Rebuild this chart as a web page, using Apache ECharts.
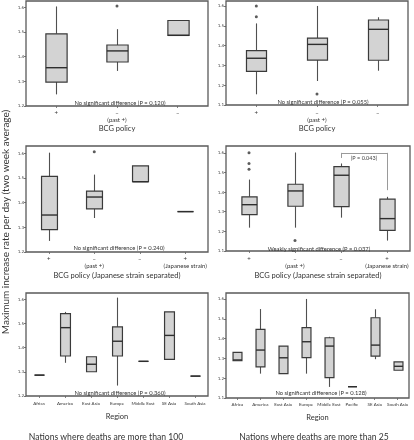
<!DOCTYPE html>
<html><head><meta charset="utf-8">
<script src="https://cdn.jsdelivr.net/npm/echarts@6/dist/echarts.min.js"></script>
<style>html,body{margin:0;padding:0;background:#fff}#c{width:414px;height:440px}</style>
</head><body><div id="c"></div>
<script>
const FONT = 'Lato, "Liberation Sans", sans-serif';

// ---------- categories ----------
const bcgCategories = ['+', '–\n(past +)', '–'];
const bcgJapanCategories = ['+', '–\n(past +)', '–', '+\n(Japanese strain)'];
const regionCategories100 = ['Africa', 'America', 'East Asia', 'Europe', 'Middle East', 'SE Asia', 'South Asia'];
const regionCategories25 = ['Africa', 'America', 'East Asia', 'Europe', 'Middle East', 'Pacific', 'SE Asia', 'South Asia'];

// ---------- box values: [min, Q1, median, Q3, max] ----------
const bcg100Boxes = [
  [1.247, 1.297, 1.355, 1.492, 1.603],
  [1.342, 1.378, 1.423, 1.447, 1.511],
  [1.486, 1.486, 1.486, 1.546, 1.546]
];
const bcg100Outliers = [[1, 1.605]]; // [category index, value]

const bcg25Boxes = [
  [1.154, 1.270, 1.336, 1.374, 1.512],
  [1.221, 1.327, 1.406, 1.438, 1.600],
  [1.273, 1.326, 1.482, 1.529, 1.543]
];
const bcg25Outliers = [[0, 1.600], [0, 1.546], [1, 1.156]];

const japan100Boxes = [
  [1.245, 1.291, 1.350, 1.507, 1.603],
  [1.338, 1.375, 1.423, 1.447, 1.514],
  [1.485, 1.485, 1.485, 1.549, 1.549],
  [1.364, 1.364, 1.364, 1.364, 1.364]
];
const japan100Outliers = [[1, 1.607]];

const japan25Boxes = [
  [1.219, 1.285, 1.336, 1.376, 1.464],
  [1.219, 1.328, 1.406, 1.440, 1.602],
  [1.270, 1.326, 1.486, 1.530, 1.546],
  [1.153, 1.205, 1.265, 1.364, 1.376]
];
const japan25Outliers = [[0, 1.600], [0, 1.546], [0, 1.517], [1, 1.154]];
// bracket between "–" (index 2) and "+ (Japanese strain)" (index 3)
const japan25Bracket = { from: 2, to: 3, top: 1.600, leftEnd: 1.574, rightEnd: 1.410, text: '(P = 0.043)' };

const region100Boxes = [
  [1.286, 1.286, 1.286, 1.286, 1.286],
  [1.337, 1.365, 1.482, 1.540, 1.547],
  [1.300, 1.300, 1.331, 1.362, 1.362],
  [1.243, 1.365, 1.426, 1.485, 1.606],
  [1.343, 1.343, 1.343, 1.343, 1.343],
  [1.351, 1.351, 1.450, 1.547, 1.547],
  [1.282, 1.282, 1.282, 1.282, 1.282]
];
const region25Boxes = [
  [1.288, 1.288, 1.292, 1.330, 1.330],
  [1.223, 1.257, 1.342, 1.446, 1.549],
  [1.223, 1.223, 1.303, 1.362, 1.362],
  [1.223, 1.304, 1.384, 1.455, 1.600],
  [1.156, 1.203, 1.362, 1.404, 1.409],
  [1.157, 1.157, 1.157, 1.157, 1.157],
  [1.296, 1.311, 1.367, 1.505, 1.548],
  [1.240, 1.240, 1.260, 1.282, 1.282]
];

// ---------- texts ----------
const noteTexts = [
  'No significant difference (P = 0.120)',
  'No significant difference (P = 0.055)',
  'No significant difference (P = 0.240)',
  'Weakly significant difference (P = 0.037)',
  'No significant difference (P = 0.360)',
  'No significant difference (P = 0.128)'
];
const axisNames = ['BCG policy', 'BCG policy', 'BCG policy (Japanese strain separated)', 'BCG policy (Japanese strain separated)', 'Region', 'Region'];
const yAxisTitle = 'Maximum increase rate per day (two week average)';
const columnTitles = ['Nations where deaths are more than 100', 'Nations where deaths are more than 25'];

// ---------- panel layout ----------
const panels = [
  { grid: { left: 26, top: 1, width: 182, height: 105 }, min: 1.2, max: 1.625, cats: bcgCategories, boxes: bcg100Boxes, outliers: bcg100Outliers, ratio: 0.35, nameGap: 17, labelSize: 6, labelMargin: 4, note: [120, 103] },
  { grid: { left: 226, top: 1, width: 182, height: 104 }, min: 1.1, max: 1.625, cats: bcgCategories, boxes: bcg25Boxes, outliers: bcg25Outliers, ratio: 0.33, nameGap: 19, labelSize: 6, labelMargin: 5, note: [323, 102] },
  { grid: { left: 26, top: 146, width: 182, height: 106 }, min: 1.2, max: 1.63, cats: bcgJapanCategories, boxes: japan100Boxes, outliers: japan100Outliers, ratio: 0.35, nameGap: 20, labelSize: 6, labelMargin: 4, note: [119, 248] },
  { grid: { left: 226, top: 146, width: 184, height: 105 }, min: 1.1, max: 1.635, cats: bcgJapanCategories, boxes: japan25Boxes, outliers: japan25Outliers, ratio: 0.33, nameGap: 21, labelSize: 6, labelMargin: 5, note: [319, 249], bracket: japan25Bracket },
  { grid: { left: 26, top: 293, width: 182, height: 103 }, min: 1.2, max: 1.625, cats: regionCategories100, boxes: region100Boxes, outliers: [], ratio: 0.38, nameGap: 17, labelSize: 4.5, labelMargin: 5, note: [120, 393] },
  { grid: { left: 226, top: 293, width: 183, height: 105 }, min: 1.1, max: 1.63, cats: regionCategories25, boxes: region25Boxes, outliers: [], ratio: 0.39, nameGap: 16, labelSize: 4.5, labelMargin: 4, note: [321, 393] }
];

function makeRender(ratio) {
  return function (params, api) {
    const idx = api.value(0);
    const pMin = api.coord([idx, api.value(1)]);
    const pQ1 = api.coord([idx, api.value(2)]);
    const pMed = api.coord([idx, api.value(3)]);
    const pQ3 = api.coord([idx, api.value(4)]);
    const pMax = api.coord([idx, api.value(5)]);
    const bw = api.size([1, 0])[0] * ratio;
    const x = Math.round(pMed[0]) + 0.5;
    const stroke = '#3a3a3a';
    const children = [];
    if (pMax[1] < pQ3[1] - 0.5) children.push({ type: 'line', shape: { x1: x, y1: pMax[1], x2: x, y2: pQ3[1] }, style: { stroke: '#505050', lineWidth: 1.1 } });
    if (pMin[1] > pQ1[1] + 0.5) children.push({ type: 'line', shape: { x1: x, y1: pQ1[1], x2: x, y2: pMin[1] }, style: { stroke: '#505050', lineWidth: 1.1 } });
    const h = pQ1[1] - pQ3[1];
    children.push({ type: 'rect', shape: { x: x - bw / 2, y: pQ3[1], width: bw, height: h }, style: { fill: h > 0.5 ? '#d3d3d3' : 'none', stroke: stroke, lineWidth: 1.2 } });
    children.push({ type: 'line', shape: { x1: x - bw / 2, y1: pMed[1], x2: x + bw / 2, y2: pMed[1] }, style: { stroke: '#2e2e2e', lineWidth: 1.4 } });
    return { type: 'group', children: children };
  };
}

const grids = [], xAxes = [], yAxes = [], series = [], graphics = [];
panels.forEach(function (p, i) {
  grids.push(Object.assign({ show: true, borderColor: '#5a5a5a', borderWidth: 1.3, backgroundColor: '#fff' }, p.grid));
  xAxes.push({
    type: 'category', gridIndex: i, data: p.cats, boundaryGap: true,
    axisLine: { show: false },
    axisTick: { show: true, alignWithLabel: true, length: 2, lineStyle: { color: '#666', width: 0.8 } },
    axisLabel: { interval: 0, fontSize: p.labelSize, lineHeight: p.labelSize + 1, margin: p.labelMargin, color: '#333', fontFamily: FONT },
    name: axisNames[i], nameLocation: 'middle', nameGap: p.nameGap,
    nameTextStyle: { fontSize: 7.5, color: '#333', fontFamily: FONT }
  });
  yAxes.push({
    type: 'value', gridIndex: i, min: p.min, max: p.max, interval: 0.1,
    splitLine: { show: false },
    axisLine: { show: false },
    axisTick: { show: true, length: 2, lineStyle: { color: '#555', width: 0.8 } },
    axisLabel: { fontSize: 4.5, color: '#444', margin: 2, fontFamily: FONT, showMaxLabel: false,
      formatter: function (v) { return v.toFixed(1); } }
  });
  const s = {
    type: 'custom', xAxisIndex: i, yAxisIndex: i,
    renderItem: makeRender(p.ratio),
    encode: { x: 0, y: [1, 2, 3, 4, 5] },
    data: p.boxes.map(function (b, k) { return [k].concat(b); }),
    silent: true, animation: false
  };
  if (p.bracket) {
    const b = p.bracket;
    s.markLine = {
      silent: true, symbol: 'none', animation: false,
      lineStyle: { color: '#9a9a9a', width: 1, type: 'solid' },
      label: { show: false },
      data: [
        [{ coord: [b.from, b.leftEnd] }, { coord: [b.from, b.top] }],
        [{ coord: [b.from, b.top], label: { show: true, formatter: b.text, position: 'insideMiddleBottom', fontSize: 5.5, color: '#444', fontFamily: FONT, distance: 2 } }, { coord: [b.to, b.top] }],
        [{ coord: [b.to, b.top] }, { coord: [b.to, b.rightEnd] }]
      ]
    };
  }
  series.push(s);
  if (p.outliers.length) {
    series.push({ type: 'scatter', xAxisIndex: i, yAxisIndex: i, data: p.outliers, symbol: 'circle', symbolSize: 3, itemStyle: { color: '#333' }, silent: true, animation: false });
  }
  graphics.push({ type: 'text', x: p.note[0], y: p.note[1], style: { text: noteTexts[i], fontSize: 5.8, fill: '#333', fontFamily: FONT, textAlign: 'center', textVerticalAlign: 'middle' }, z: 100 });
});

graphics.push({ type: 'text', x: 6, y: 222, rotation: Math.PI / 2, style: { text: yAxisTitle, fontSize: 10, fill: '#333', fontFamily: FONT, textAlign: 'center', textVerticalAlign: 'middle' } });
graphics.push({ type: 'text', x: 106, y: 437, style: { text: columnTitles[0], fontSize: 8.6, fill: '#333', fontFamily: FONT, textAlign: 'center', textVerticalAlign: 'middle' } });
graphics.push({ type: 'text', x: 314, y: 437, style: { text: columnTitles[1], fontSize: 8.6, fill: '#333', fontFamily: FONT, textAlign: 'center', textVerticalAlign: 'middle' } });

const chart = echarts.init(document.getElementById('c'), null, { renderer: 'canvas' });
chart.setOption({
  animation: false,
  backgroundColor: '#fff',
  grid: grids, xAxis: xAxes, yAxis: yAxes, series: series, graphic: graphics
});
</script>
</body></html>
